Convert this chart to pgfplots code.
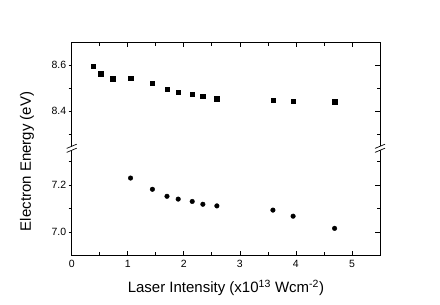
\documentclass[border=0pt]{standalone}
\usepackage{pgfplots}
\pgfplotsset{compat=1.18}
\usepackage{fontspec}
\setmainfont{Liberation Sans}
\pgfplotstableread{
x y
0.385 8.594
0.518 8.562
0.730 8.540
1.050 8.543
1.440 8.520
1.700 8.496
1.900 8.481
2.150 8.474
2.340 8.465
2.590 8.453
3.590 8.447
3.950 8.443
4.690 8.440
}\updata
\pgfplotstableread{
x y
1.050 7.230
1.440 7.182
1.700 7.152
1.900 7.140
2.150 7.130
2.340 7.118
2.590 7.111
3.590 7.093
3.950 7.067
4.690 7.015
}\lowdata
\begin{document}
\begin{tikzpicture}[x=1pt,y=1pt]
\path[use as bounding box] (-71.7,-49.7) rectangle (368.3,255.3);
\pgfplotsset{
  brk/.style={scale only axis, width=308.3pt, xmin=0, xmax=5.5,
    axis line style={draw=none}, clip=false, anchor=south west,
    /pgf/number format/assume math mode=true,
    /pgf/number format/fixed, /pgf/number format/precision=1,
    /pgf/number format/fixed zerofill,
    tick label style={font=\fontsize{10.5}{12}\selectfont},
    major tick length=4.5pt, minor tick length=3pt,
    tick style={black, line width=0.7pt}},
  brkover/.style={brk, tick align=outside, ytick pos=left, xtick=\empty,
    yticklabels={}, major tick length=3pt, minor tick length=3pt}
}
% lower part
\begin{axis}[brk, at={(0pt,0pt)}, height=107pt, ymin=6.9, ymax=7.357,
  xtick={0,1,2,3,4,5}, minor xtick={0.5,1.5,2.5,3.5,4.5},
  xtick pos=bottom, tick align=inside,
  xticklabel style={/pgf/number format/precision=0, yshift=-1pt},
  yticklabel style={xshift=-2pt},
  ytick={7.0,7.2}, minor ytick={7.1,7.3},
  ytick pos=right, yticklabel pos=left]
\addplot[only marks, mark=*, mark size=2.3pt, black] table[x=x,y=y] {\lowdata};
\end{axis}
\begin{axis}[brkover, at={(0pt,0pt)}, height=107pt, ymin=6.9, ymax=7.357,
  ytick={7.0,7.2}, minor ytick={7.1,7.3}]
\end{axis}
% upper part
\begin{axis}[brk, at={(0pt,107pt)}, height=105.6pt, ymin=8.238, ymax=8.697,
  xtick={0,1,2,3,4,5}, minor xtick={0.5,1.5,2.5,3.5,4.5},
  xtick pos=top, tick align=inside, xticklabels={},
  yticklabel style={xshift=-2pt},
  ytick={8.4,8.6}, minor ytick={8.3,8.5},
  ytick pos=right, yticklabel pos=left]
\addplot[only marks, mark=square*, mark size=2.2pt, black] table[x=x,y=y] {\updata};
\end{axis}
\begin{axis}[brkover, at={(0pt,107pt)}, height=105.6pt, ymin=8.238, ymax=8.697,
  ytick={8.4,8.6}, minor ytick={8.3,8.5}]
\end{axis}
% frame
\draw[line width=0.8pt] (0,212.6) -- (0,0) -- (308.3,0) -- (308.3,212.6) -- cycle;
% break marks
\foreach \bx in {0,308.3}{
  \fill[white] (\bx-5,107-2.1-2) -- (\bx+5,107+2.1-2) -- (\bx+5,107+2.1+2) -- (\bx-5,107-2.1+2) -- cycle;
  \draw[line width=0.7pt] (\bx-5,107-2.1-2) -- (\bx+5,107+2.1-2);
  \draw[line width=0.7pt] (\bx-5,107-2.1+2) -- (\bx+5,107+2.1+2);
}
\node[rotate=90, font=\fontsize{15}{17}\selectfont] at (-44.7,93.8) {Electron Energy (eV)};
\node[anchor=base, font=\fontsize{15}{17}\selectfont] at (154.2,-37.7) {Laser Intensity (x10\textsuperscript{13} Wcm\textsuperscript{-2})};
\end{tikzpicture}
\end{document}
